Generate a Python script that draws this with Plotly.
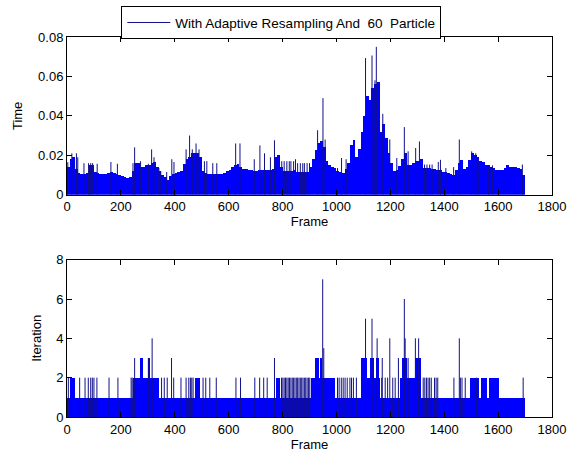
import plotly.graph_objects as go
from plotly.subplots import make_subplots

# ---------------- data ----------------
# Time per frame: level for every block of 10 frames (block i covers frames 10*i .. 10*i+10)
time_block_size = 10
time_blocks = [
    0.014, 0.018, 0.019, 0.013, 0.011, 0.0105, 0.0105, 0.011, 0.015, 0.015,
    0.0115, 0.011, 0.0105, 0.0105, 0.0105, 0.011, 0.0115, 0.011, 0.0105, 0.010,
    0.0095, 0.009, 0.0085, 0.009, 0.012, 0.016, 0.016, 0.014, 0.014, 0.015,
    0.015, 0.016, 0.0165, 0.014, 0.012, 0.0098, 0.009, 0.0076, 0.0095, 0.0105,
    0.011, 0.0115, 0.012, 0.0155, 0.018, 0.019, 0.021, 0.021, 0.021, 0.019,
    0.012, 0.011, 0.0105, 0.0105, 0.0105, 0.0105, 0.0105, 0.0105, 0.011, 0.012,
    0.0125, 0.014, 0.015, 0.0155, 0.014, 0.013, 0.013, 0.0125, 0.0123, 0.012,
    0.012, 0.0123, 0.0123, 0.0125, 0.0127, 0.0127, 0.013, 0.019, 0.020, 0.014,
    0.012, 0.012, 0.012, 0.012, 0.0125, 0.0115, 0.0115, 0.0115, 0.0115, 0.0115,
    0.014, 0.018, 0.0225, 0.026, 0.027, 0.024, 0.017, 0.015, 0.014, 0.0135,
    0.012, 0.0115, 0.0112, 0.013, 0.016, 0.025, 0.028, 0.019, 0.023, 0.032,
    0.040, 0.050, 0.048, 0.054, 0.056, 0.057, 0.032, 0.036, 0.029, 0.021,
    0.016, 0.012, 0.0127, 0.0144, 0.018, 0.021, 0.015, 0.015, 0.016, 0.017,
    0.017, 0.018, 0.0135, 0.0135, 0.0135, 0.013, 0.013, 0.0123, 0.0123, 0.0115,
    0.0115, 0.0112, 0.0106, 0.0098, 0.0123, 0.016, 0.0174, 0.013, 0.014, 0.0175,
    0.021, 0.020, 0.019, 0.017, 0.0166, 0.0149, 0.0149, 0.014, 0.0135, 0.0123,
    0.0123, 0.0127, 0.0135, 0.0149, 0.014, 0.014, 0.014, 0.0135, 0.013, 0.0098,
]
# individual frames that stick out above the block level
time_spike_frames = [
    3, 18, 35, 40, 63, 80, 88, 95, 112, 163, 187, 245, 251, 273, 302, 314, 323,
    341, 348, 370, 389, 397, 442, 455, 465, 479, 490, 510, 519, 541, 556, 626,
    642, 695, 716, 733, 755, 770, 797, 806, 816, 825, 831, 841, 848, 856, 866,
    875, 881, 891, 900, 930, 950, 958, 1004, 1019, 1036, 1108, 1132, 1143, 1148,
    1172, 1198, 1224, 1252, 1266, 1294, 1308, 1327, 1336, 1346, 1355, 1378,
    1386, 1406, 1435, 1456, 1502, 1517, 1526, 1565, 1579, 1690,
]
time_spike_values = [
    0.0165, 0.021, 0.021, 0.019, 0.016, 0.016, 0.016, 0.016, 0.0157, 0.0166,
    0.0157, 0.016, 0.024, 0.017, 0.0157, 0.023, 0.019, 0.0135, 0.012, 0.0115,
    0.018, 0.0166, 0.023, 0.030, 0.023, 0.026, 0.023, 0.017, 0.017, 0.016,
    0.016, 0.026, 0.026, 0.018, 0.025, 0.021, 0.019, 0.0276, 0.017, 0.017,
    0.017, 0.017, 0.017, 0.017, 0.018, 0.016, 0.016, 0.016, 0.016, 0.016,
    0.016, 0.0327, 0.049, 0.028, 0.0135, 0.0186, 0.018, 0.0693, 0.0706, 0.058,
    0.075, 0.041, 0.028, 0.0186, 0.0343, 0.022, 0.0237, 0.027, 0.0153, 0.0153,
    0.0153, 0.0153, 0.0166, 0.0177, 0.0135, 0.014, 0.028, 0.022, 0.021, 0.019,
    0.0135, 0.0149, 0.0153,
]

# Iterations: runs of frames at a constant level
iter_run_start = [0, 10, 245, 272, 300, 475, 775, 905, 922, 940, 1092, 1092,
                  1124, 1145, 1237, 1244, 1293, 1497, 1535, 1565]
iter_run_end = [1700, 30, 340, 282, 308, 495, 790, 995, 934, 947, 1163, 1115,
                1139, 1158, 1312, 1260, 1312, 1530, 1560, 1603]
iter_run_value = [1, 2, 2, 3, 3, 2, 2, 2, 3, 3, 2, 3,
                  3, 3, 2, 3, 3, 2, 2, 2]
# single frames with a higher iteration count
iter_spike_frames = [
    5, 47, 67, 79, 88, 94, 100, 111, 156, 189, 238, 242, 351, 361, 372, 396,
    423, 442, 452, 458, 463, 468, 505, 515, 530, 554, 627, 644, 697, 715, 730,
    743, 796, 801, 806, 811, 816, 821, 826, 831, 836, 841, 846, 851, 856, 861,
    866, 871, 876, 881, 886, 891, 896, 901, 1004, 1010, 1018, 1025, 1032, 1040,
    1050, 1056, 1063, 1074, 1168, 1181, 1190, 1209, 1218, 1322, 1328, 1334,
    1340, 1346, 1352, 1364, 1370, 1376, 1436, 1460, 1466, 1478, 1520, 1693,
    251, 302, 388, 770, 1170, 1230, 1266,
    316, 1151, 1198, 1255, 1293, 1305, 1456,
    1108, 1132, 1252, 949, 953,
]
iter_spike_values = [2] * 84 + [3] * 7 + [4] * 7 + [5, 5, 6, 7, 3.5]

legend_name = "With Adaptive Resampling And\u00a0 60\u00a0 Particle"
x_ticks = list(range(0, 1801, 200))
time_ticks = [0, 0.02, 0.04, 0.06, 0.08]
time_tick_text = ["0", "0.02", "0.04", "0.06", "0.08"]
iter_ticks = [0, 2, 4, 6, 8]

# ---------------- figure ----------------
FILL = "#0000ff"
EDGE = "#10108a"
FONT = "Liberation Sans, Arial, sans-serif"
FS = 13


def spike_xy(frames, values):
    xs, ys = [], []
    for f, v in zip(frames, values):
        xs += [f, f, None]
        ys += [0, v, None]
    return xs, ys


fig = make_subplots(rows=2, cols=1, vertical_spacing=0.0)

# top: time
fig.add_trace(go.Bar(
    x=[i * time_block_size + time_block_size / 2 for i in range(len(time_blocks))],
    y=time_blocks, width=time_block_size, marker=dict(color=FILL, line=dict(width=0)),
    showlegend=False, hoverinfo="skip"), row=1, col=1)
sx, sy = spike_xy(time_spike_frames, time_spike_values)
fig.add_trace(go.Scatter(x=sx, y=sy, mode="lines", line=dict(color=EDGE, width=1),
                         name=legend_name, showlegend=True), row=1, col=1)

# bottom: iteration
fig.add_trace(go.Bar(
    x=[(s + e) / 2 for s, e in zip(iter_run_start, iter_run_end)],
    y=iter_run_value, width=[e - s for s, e in zip(iter_run_start, iter_run_end)],
    marker=dict(color=FILL, line=dict(width=0)), showlegend=False, hoverinfo="skip"),
    row=2, col=1)
bx, by = spike_xy(iter_spike_frames, iter_spike_values)
fig.add_trace(go.Scatter(x=bx, y=by, mode="lines", line=dict(color=EDGE, width=1),
                         showlegend=False), row=2, col=1)

axis_common = dict(showline=True, linecolor="black", linewidth=1, mirror="ticks",
                   ticks="inside", ticklen=5, tickcolor="black", showgrid=False,
                   zeroline=False, automargin=False,
                   tickfont=dict(size=FS, color="black", family=FONT))

fig.update_xaxes(range=[0, 1800], tickvals=x_ticks, **axis_common,
                 title=dict(text="Frame", font=dict(size=FS, color="black", family=FONT), standoff=2))
fig.update_yaxes(**axis_common)
fig.update_yaxes(range=[0, 0.08], tickvals=time_ticks, ticktext=time_tick_text,
                 title=dict(text="Time", font=dict(size=FS, color="black", family=FONT), standoff=12),
                 domain=[0.585, 1.0], row=1, col=1)
fig.update_yaxes(range=[0, 8], tickvals=iter_ticks,
                 title=dict(text="Iteration", font=dict(size=FS, color="black", family=FONT), standoff=11),
                 domain=[0.0, 0.414], row=2, col=1)

fig.update_layout(
    width=567, height=457,
    margin=dict(l=67, r=15, t=37, b=40, autoexpand=False),
    paper_bgcolor="white", plot_bgcolor="white",
    barmode="overlay", bargap=0,
    font=dict(family=FONT, size=FS, color="black"),
    legend=dict(x=0.112, y=1.081, xanchor="left", yanchor="top",
                bordercolor="black", borderwidth=1, bgcolor="white",
                font=dict(size=FS + 0.5, color="black", family=FONT),
                itemwidth=43, tracegroupgap=0),
    showlegend=True,
)

fig.write_html("out.html", config={"displayModeBar": False},
               post_script="document.body.style.margin='0';document.body.style.padding='0';")
